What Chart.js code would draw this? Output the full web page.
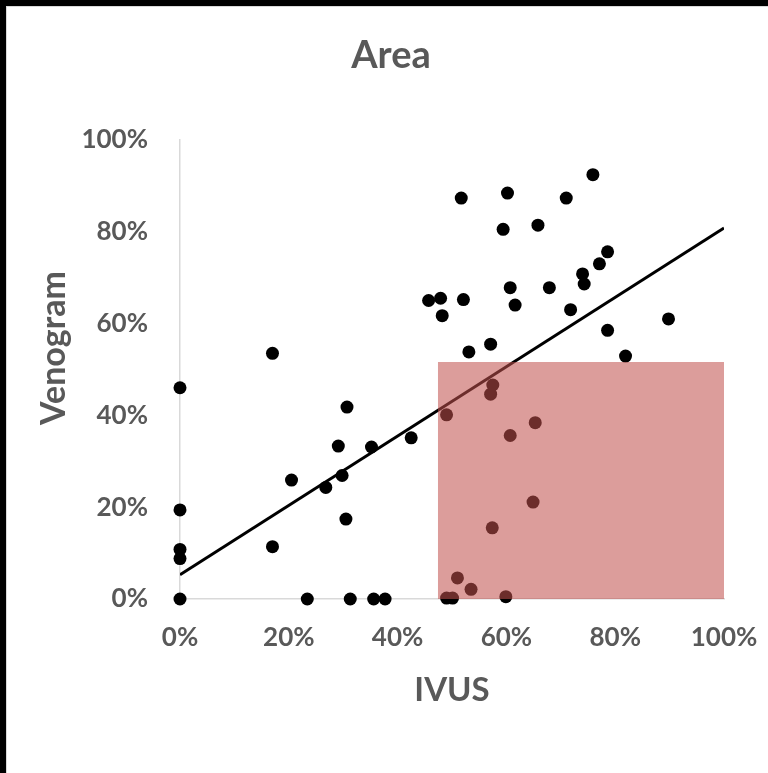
<!DOCTYPE html>
<html>
<head>
<meta charset="utf-8">
<script src="https://cdn.jsdelivr.net/npm/chart.js@4/dist/chart.umd.min.js"></script>
<style>
  html, body { margin: 0; padding: 0; background: #fff; }
  #wrap { position: relative; width: 768px; height: 773px; overflow: hidden; }
  #chart { position: absolute; left: 0; top: 0; }
  .edge { position: absolute; background: #000; }
  .line { position: absolute; background: #d9d9d9; }
</style>
</head>
<body>
<div id="wrap">
  <canvas id="chart" width="768" height="773"></canvas>
  <div class="edge" style="left:0;top:0;width:768px;height:6px"></div>
  <div class="edge" style="left:0;top:0;width:6px;height:773px"></div>
  <div class="line" style="left:6px;top:6px;width:762px;height:1px"></div>
  <div class="line" style="left:6px;top:6px;width:1px;height:767px"></div>
</div>
<script>
// Данные (значения в процентах)
const ivus = [0, 0, 0, 0, 0, 17.0, 17.0, 20.5, 23.4, 26.8, 29.1, 29.8, 30.5, 30.7, 31.3, 35.2, 35.6, 37.7,
  42.5, 45.7, 47.9, 48.2, 49.0, 49.0, 50.1, 51.0, 51.7, 52.1, 53.1, 53.5, 57.1, 57.5, 57.1, 57.4,
  59.4, 59.9, 60.2, 60.7, 60.7, 61.6, 64.9, 65.3, 65.8, 67.9, 71.0, 71.8, 74.0, 74.3, 75.9, 77.1,
  78.6, 78.6, 81.9, 89.8];
const venogram = [46.0, 19.4, 10.8, 8.8, 0, 53.5, 11.4, 25.9, 0, 24.3, 33.3, 26.9, 17.4, 41.8, 0, 33.1, 0, 0,
  35.1, 65.0, 65.5, 61.7, 40.1, 0.2, 0.2, 4.6, 87.3, 65.2, 53.8, 2.1, 55.5, 46.6, 44.6, 15.5,
  80.5, 0.5, 88.4, 67.8, 35.6, 64.0, 21.1, 38.4, 81.4, 67.8, 87.3, 63.0, 70.8, 68.6, 92.4, 73.0,
  75.6, 58.5, 52.9, 61.0];

// Линия тренда (концы)
const trendX = [0, 100];
const trendY = [5.3, 80.8];

// Выделенная область
const shadeX = [47.4, 47.4, 100, 100];
const shadeY = [0, 51.6, 51.6, 0];

const tickValues = [0, 20, 40, 60, 80, 100];

const grey = '#595959';
const fontFamily = 'Lato, "Liberation Sans", sans-serif';

function toPoints(xs, ys) {
    return xs.map((x, i) => ({ x: x, y: ys[i] }));
}

// Подписи осей
const axisTitles = {
    id: 'axisTitles',
    afterDraw(chart) {
        const ctx = chart.ctx;
        const area = chart.chartArea;
        ctx.save();
        ctx.fillStyle = grey;
        ctx.font = 'bold 33px ' + fontFamily;
        ctx.textAlign = 'center';
        ctx.textBaseline = 'middle';
        ctx.fillText('IVUS', (area.left + area.right) / 2, 690);
        ctx.font = 'bold 34px ' + fontFamily;
        ctx.translate(54, 348);
        ctx.rotate(-Math.PI / 2);
        ctx.fillText('Venogram', 0, 0);
        ctx.restore();
    }
};

const ctx = document.getElementById('chart').getContext('2d');
new Chart(ctx, {
    type: 'scatter',
    data: {
        datasets: [
            {
                type: 'line',
                data: toPoints(shadeX, shadeY),
                borderWidth: 0,
                pointRadius: 0,
                fill: 'origin',
                backgroundColor: 'rgba(192, 80, 77, 0.56)',
                tension: 0,
                order: 0
            },
            {
                type: 'line',
                data: toPoints(trendX, trendY),
                borderColor: '#000',
                borderWidth: 3,
                pointRadius: 0,
                fill: false,
                order: 1
            },
            {
                data: toPoints(ivus, venogram),
                backgroundColor: '#000',
                borderColor: '#000',
                borderWidth: 0,
                pointRadius: 6.5,
                clip: false,
                order: 2
            }
        ]
    },
    options: {
        responsive: false,
        animation: false,
        layout: { padding: { left: 58, top: 6, right: 44, bottom: 0 } },
        plugins: {
            legend: { display: false },
            tooltip: { enabled: false },
            title: {
                display: true,
                text: 'Area',
                color: grey,
                font: { family: fontFamily, size: 38, weight: 'bold', lineHeight: 1.2 },
                padding: { top: 27, bottom: 61.2 }
            }
        },
        scales: {
            x: {
                type: 'linear',
                min: 0,
                max: 100,
                afterBuildTicks: (scale) => { scale.ticks = tickValues.map(v => ({ value: v })); },
                afterFit: (scale) => {
                    scale.height = 174;
                    scale.paddingLeft = 0;
                    scale.paddingRight = 0;
                },
                grid: { display: false, drawTicks: false },
                border: { display: true, color: '#d9d9d9', width: 1.5 },
                ticks: {
                    color: grey,
                    padding: 23,
                    maxRotation: 0,
                    font: { family: fontFamily, size: 26, weight: 'bold' },
                    callback: (v) => v + '%'
                }
            },
            y: {
                type: 'linear',
                min: 0,
                max: 100,
                afterBuildTicks: (scale) => { scale.ticks = tickValues.map(v => ({ value: v })); },
                afterFit: (scale) => { scale.width = 122; },
                grid: { display: false, drawTicks: false },
                border: { display: true, color: '#d9d9d9', width: 1.5 },
                ticks: {
                    color: grey,
                    padding: 32,
                    font: { family: fontFamily, size: 26, weight: 'bold' },
                    callback: (v) => v + '%'
                }
            }
        }
    },
    plugins: [axisTitles]
});
</script>
</body>
</html>
